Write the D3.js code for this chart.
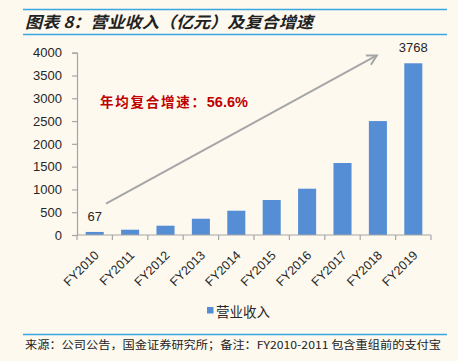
<!DOCTYPE html>
<html><head><meta charset="utf-8">
<script src="https://cdn.jsdelivr.net/npm/d3@7"></script>
<style>
html,body{margin:0;padding:0;background:#fdf9ef;}
svg{display:block;}
</style></head>
<body>
<svg id="c" width="458" height="361"></svg>
<script>
const categories = ["FY2010","FY2011","FY2012","FY2013","FY2014","FY2015","FY2016","FY2017","FY2018","FY2019"];
const revenue = [67, 116, 204, 357, 533, 768, 1016, 1580, 2500, 3768];
const yTicks = [0, 500, 1000, 1500, 2000, 2500, 3000, 3500, 4000];
const labelled = ["FY2010", "FY2019"];
const seriesName = "营业收入";
const titleText = "图表 8：营业收入（亿元）及复合增速";
const cagrText = "年均复合增速：";
const cagrValue = "56.6%";
const sourceText = "来源：公司公告，国金证券研究所；备注：FY2010-2011 包含重组前的支付宝";
// arrow annotation in (category index, value) space
const arrowFrom = [0.82, 690];
const arrowTo = [8.47, 3940];

const svg = d3.select("#c");
const W = 458, H = 361;
const m = {l: 77, r: 27, t: 52.7, b: 126};
const x0 = m.l, x1 = W - m.r, y0 = 235, y1 = m.t;
const blue = "#558ed5", axisCol = "#a6a6a6", txt = "#262626";

svg.append("rect").attr("width", W).attr("height", H).attr("fill", "#fdf9ef");

// header
svg.append("line").attr("x1", 23).attr("x2", 447).attr("y1", 9.5).attr("y2", 9.5).attr("stroke", "#3aa8e0").attr("stroke-width", 1.3);
svg.append("line").attr("x1", 23).attr("x2", 447).attr("y1", 34.5).attr("y2", 34.5).attr("stroke", "#3aa8e0").attr("stroke-width", 1.3);
svg.append("text").attr("x", 25).attr("y", 28).text(titleText)
  .attr("font-family", "'Noto Sans CJK SC', sans-serif").attr("font-size", 16).attr("font-weight", "bold")
  .attr("font-style", "italic").attr("fill", "#222")
  .attr("textLength", 288).attr("lengthAdjust", "spacingAndGlyphs");

const x = d3.scaleBand().domain(categories).range([x0, x1]).paddingInner(0.49).paddingOuter(0.245);
const xi = d3.scaleLinear().domain([0, categories.length]).range([x0, x1]);
const y = d3.scaleLinear().domain([0, 4000]).range([y0, y1]);

// bars
svg.append("g").selectAll("rect").data(revenue).join("rect")
  .attr("x", (d, i) => x(categories[i])).attr("width", x.bandwidth())
  .attr("y", d => y(d)).attr("height", d => y(0) - y(d)).attr("fill", blue);

// y axis
const ya = svg.append("g").attr("transform", `translate(${x0},0)`)
  .call(d3.axisLeft(y).tickValues(yTicks).tickSize(5).tickPadding(10).tickFormat(d3.format("d")));
ya.select(".domain").attr("stroke", axisCol).attr("stroke-width", 1.2);
ya.selectAll(".tick line").attr("stroke", axisCol).attr("stroke-width", 1.2);
ya.selectAll("text").attr("font-family", "'Liberation Sans', Arial, sans-serif").attr("font-size", 13).attr("fill", txt);

// x axis
const xa = svg.append("g").attr("transform", `translate(0,${y0})`);
xa.append("line").attr("x1", x0).attr("x2", x1).attr("stroke", axisCol).attr("stroke-width", 1.2);
xa.selectAll("line.t").data(d3.range(categories.length + 1)).join("line").attr("class", "t")
  .attr("x1", d => xi(d)).attr("x2", d => xi(d)).attr("y1", 0).attr("y2", 5)
  .attr("stroke", axisCol).attr("stroke-width", 1.2);
xa.selectAll("text").data(categories).join("text")
  .attr("transform", d => `translate(${x(d) + x.bandwidth() / 2 + 5},${21}) rotate(-45)`)
  .attr("text-anchor", "end").text(d => d)
  .attr("font-family", "'Liberation Sans', Arial, sans-serif").attr("font-size", 12.5).attr("fill", txt);

// value labels
svg.append("g").selectAll("text").data(categories.map((c, i) => ({c, v: revenue[i]})).filter(d => labelled.includes(d.c)))
  .join("text").attr("x", d => x(d.c) + x.bandwidth() / 2).attr("y", d => y(d.v) - 11)
  .attr("text-anchor", "middle").text(d => d.v)
  .attr("font-family", "'Liberation Sans', Arial, sans-serif").attr("font-size", 13).attr("fill", txt);

// arrow
const ax1 = xi(arrowFrom[0]), ay1 = y(arrowFrom[1]), ax2 = xi(arrowTo[0]), ay2 = y(arrowTo[1]);
svg.append("line").attr("x1", ax1).attr("y1", ay1).attr("x2", ax2).attr("y2", ay2)
  .attr("stroke", "#a6a6a6").attr("stroke-width", 2);
const ang = Math.atan2(ay2 - ay1, ax2 - ax1), hl = 11;
const p = a => [ax2 - hl * Math.cos(ang + a), ay2 - hl * Math.sin(ang + a)];
svg.append("path").attr("d", d3.line()([p(0.5), [ax2, ay2], p(-0.5)]))
  .attr("fill", "none").attr("stroke", "#a6a6a6").attr("stroke-width", 2);

// CAGR annotation
const ct = svg.append("text").attr("x", 100).attr("y", 106.5).attr("fill", "#c00000")
  .attr("font-size", 13.5).attr("font-weight", "bold");
ct.append("tspan").text(cagrText).attr("font-family", "'Noto Sans CJK SC', sans-serif")
  .attr("textLength", 105).attr("lengthAdjust", "spacing");
ct.append("tspan").text(cagrValue).attr("font-family", "'Liberation Sans', Arial, sans-serif").attr("font-size", 14.5);

// legend
svg.append("rect").attr("x", 207).attr("y", 307).attr("width", 6.5).attr("height", 6.5).attr("fill", blue);
svg.append("text").attr("x", 216).attr("y", 317).text(seriesName)
  .attr("font-family", "'Noto Sans CJK SC', sans-serif").attr("font-size", 13.5).attr("fill", txt);

// footer
svg.append("line").attr("x1", 23).attr("x2", 447).attr("y1", 334.5).attr("y2", 334.5).attr("stroke", "#3aa8e0").attr("stroke-width", 1.3);
svg.append("text").attr("x", 25).attr("y", 348.5).text(sourceText)
  .attr("font-family", "'Noto Sans CJK SC', sans-serif").attr("font-size", 11).attr("fill", "#222")
  .attr("textLength", 416).attr("lengthAdjust", "spacingAndGlyphs");
</script>
</body></html>
